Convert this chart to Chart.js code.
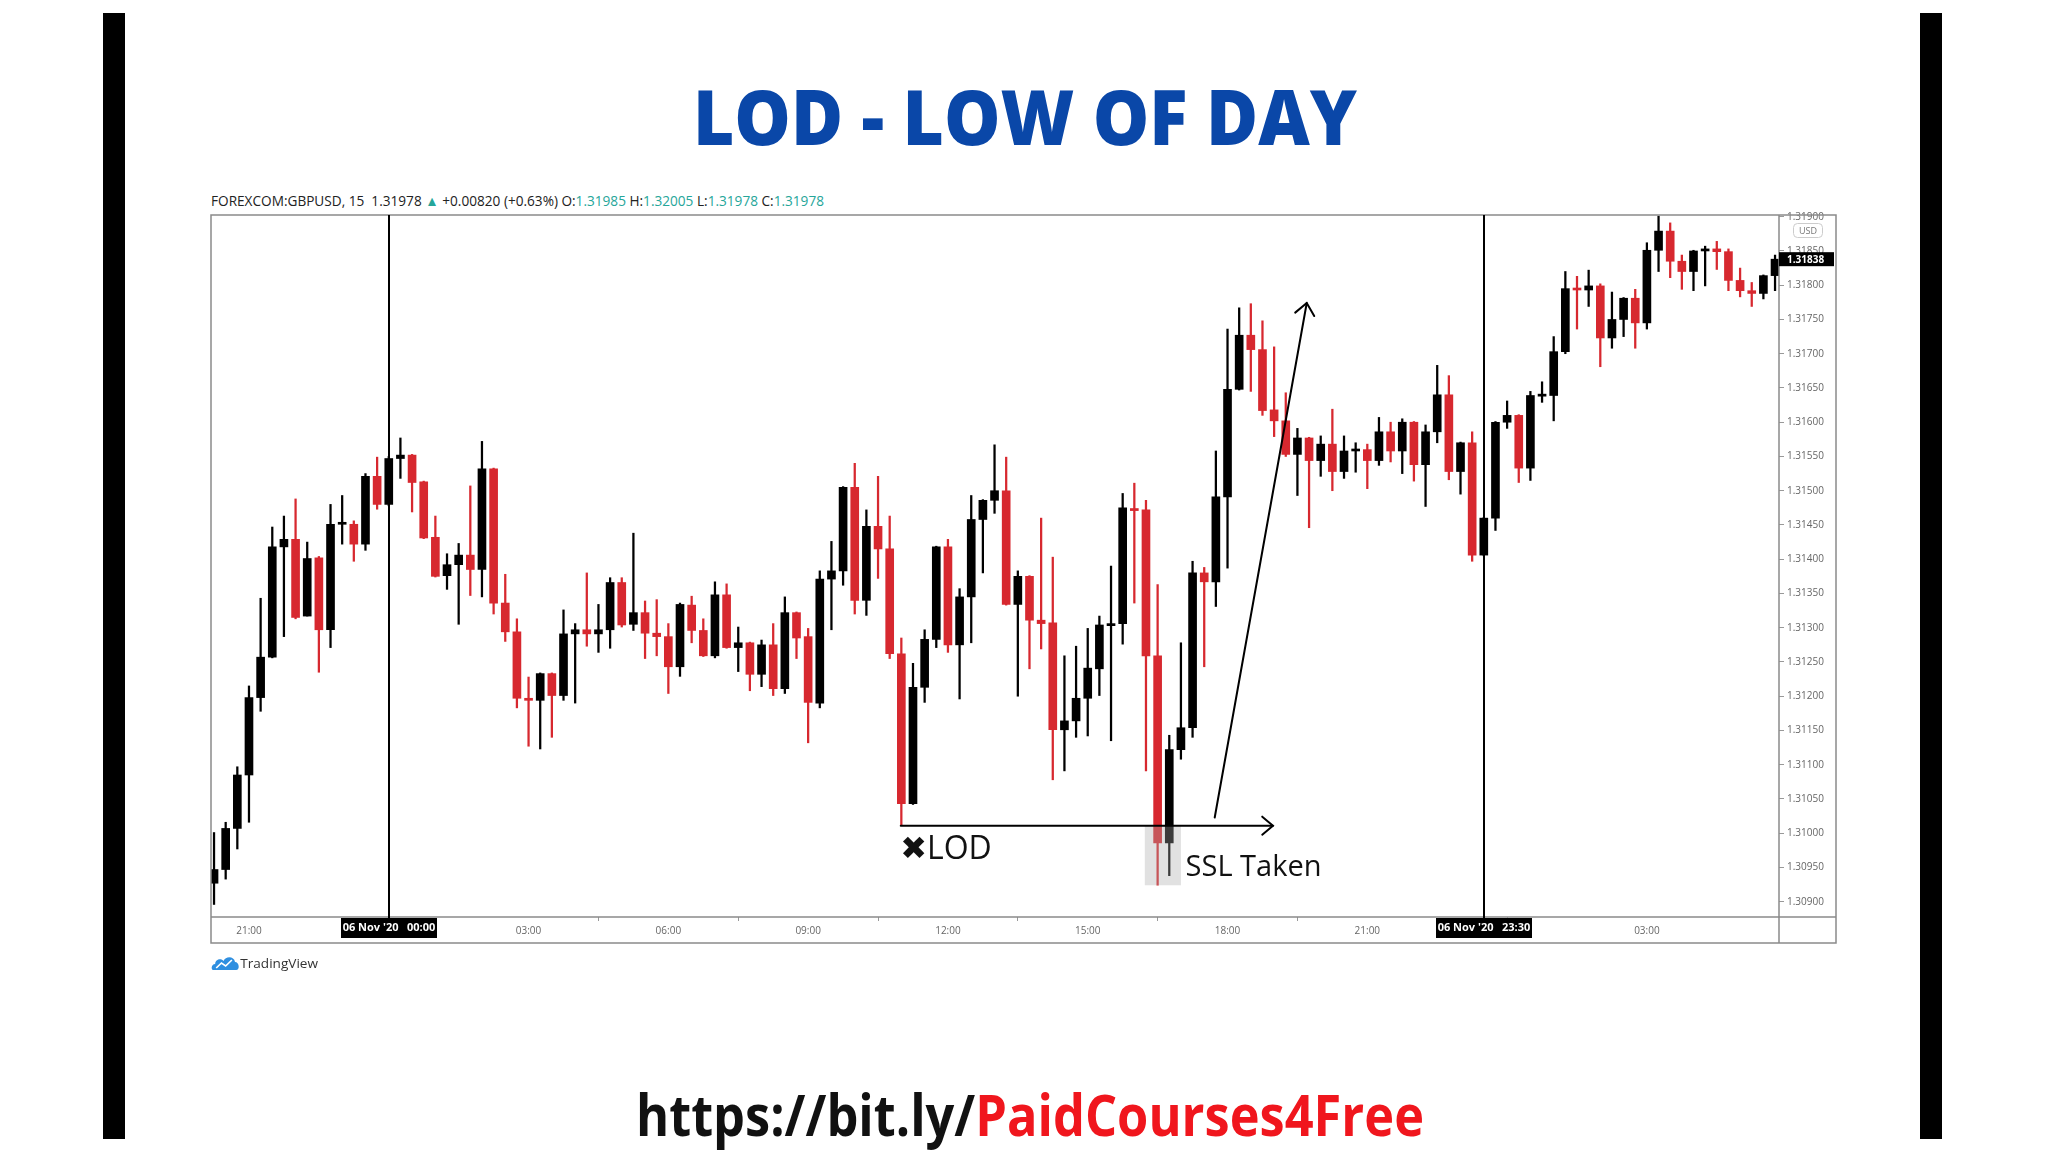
<!DOCTYPE html>
<html>
<head>
<meta charset="utf-8">
<script src="https://cdn.jsdelivr.net/npm/chart.js@4.4.1/dist/chart.umd.min.js"></script>
<style>
	body { margin: 0; width: 2048px; height: 1152px; background: #fff; overflow: hidden; position: relative; font-family: "Open Sans", sans-serif; }
	.barre { position: absolute; top: 13px; width: 22px; height: 1126px; background: #000; }
	.texte { position: absolute; white-space: nowrap; line-height: 1; transform-origin: 0 0; }
	#titre { left: 693px; top: 77px; font-size: 77px; font-weight: 800; color: #0a47a8; }
	#entete { left: 211px; top: 194px; font-size: 14px; color: #222; }
	#entete .vert { color: #26a69a; }
	#lien { left: 636px; top: 1085px; font-size: 58px; font-weight: 700; color: #111; }
	#lien span { color: #f0161d; }
	#tv { left: 211px; top: 955px; font-size: 13px; color: #333; display: flex; align-items: center; }
	#graphique { position: absolute; left: 0; top: 0; }
</style>
</head>
<body>
<div class="barre" style="left:103px"></div>
<div class="barre" style="left:1920px"></div>
<div id="titre" class="texte">LOD - LOW OF DAY</div>
<div id="entete" class="texte">FOREXCOM:GBPUSD, 15&nbsp; 1.31978 <span class="vert">▲</span> +0.00820 (+0.63%) O:<span class="vert">1.31985</span> H:<span class="vert">1.32005</span> L:<span class="vert">1.31978</span> C:<span class="vert">1.31978</span></div>
<canvas id="graphique" width="2048" height="1152"></canvas>
<div id="tv" class="texte"><svg width="28" height="16" viewBox="0 0 28 16"><path d="M2 15 C0 15 0 9 4 9 C4 4 10 3 12 6 C14 1 22 1 23 7 C27 7 28 15 24 15 Z" fill="#2f8fe0"/><path d="M5 13 L10 8 L14 11 L20 5" stroke="#fff" stroke-width="1.6" fill="none"/></svg>TradingView</div>
<div id="lien" class="texte">https://bit.ly/<span>PaidCourses4Free</span></div>
<script>
const opens = [1.30927, 1.30947, 1.31007, 1.31085, 1.31198, 1.31257, 1.31418, 1.31429, 1.31317, 1.31402,
	1.31297, 1.31451, 1.31451, 1.31422, 1.31521, 1.31480, 1.31547, 1.31552, 1.31513, 1.31432,
	1.31376, 1.31392, 1.31406, 1.31385, 1.31532, 1.31336, 1.31294, 1.31197, 1.31194, 1.31233,
	1.31201, 1.31291, 1.31297, 1.31291, 1.31297, 1.31366, 1.31305, 1.31322, 1.31292, 1.31287,
	1.31243, 1.31333, 1.31296, 1.31259, 1.31348, 1.31271, 1.31278, 1.31232, 1.31275, 1.31211,
	1.31322, 1.31287, 1.31190, 1.31371, 1.31383, 1.31505, 1.31340, 1.31448, 1.31415, 1.31262,
	1.31043, 1.31213, 1.31283, 1.31418, 1.31275, 1.31345, 1.31458, 1.31486, 1.31500, 1.31334,
	1.31375, 1.31311, 1.31307, 1.31151, 1.31164, 1.31197, 1.31240, 1.31303, 1.31306, 1.31474,
	1.31472, 1.31259, 1.30986, 1.31122, 1.31154, 1.31380, 1.31367, 1.31491, 1.31648, 1.31727,
	1.31706, 1.31618, 1.31602, 1.31553, 1.31577, 1.31544, 1.31568, 1.31528, 1.31558, 1.31560,
	1.31544, 1.31586, 1.31558, 1.31600, 1.31538, 1.31586, 1.31640, 1.31528, 1.31570, 1.31406,
	1.31460, 1.31600, 1.31610, 1.31533, 1.31638, 1.31639, 1.31703, 1.31795, 1.31793, 1.31799,
	1.31723, 1.31750, 1.31781, 1.31745, 1.31851, 1.31879, 1.31835, 1.31820, 1.31850, 1.31853,
	1.31849, 1.31807, 1.31792, 1.31788, 1.31814];
const highs = [1.31001, 1.31016, 1.31097, 1.31215, 1.31343, 1.31447, 1.31463, 1.31488, 1.31425, 1.31404,
	1.31480, 1.31493, 1.31456, 1.31525, 1.31549, 1.31550, 1.31577, 1.31553, 1.31514, 1.31463,
	1.31408, 1.31423, 1.31507, 1.31572, 1.31533, 1.31378, 1.31313, 1.31228, 1.31234, 1.31234,
	1.31326, 1.31306, 1.31380, 1.31334, 1.31373, 1.31373, 1.31438, 1.31339, 1.31341, 1.31306,
	1.31336, 1.31346, 1.31313, 1.31367, 1.31364, 1.31301, 1.31279, 1.31282, 1.31306, 1.31345,
	1.31323, 1.31299, 1.31383, 1.31426, 1.31506, 1.31540, 1.31472, 1.31521, 1.31463, 1.31285,
	1.31248, 1.31297, 1.31419, 1.31429, 1.31357, 1.31493, 1.31487, 1.31567, 1.31549, 1.31383,
	1.31376, 1.31460, 1.31403, 1.31259, 1.31273, 1.31299, 1.31317, 1.31390, 1.31496, 1.31511,
	1.31486, 1.31363, 1.31143, 1.31278, 1.31397, 1.31388, 1.31558, 1.31736, 1.31767, 1.31773,
	1.31748, 1.31710, 1.31643, 1.31591, 1.31578, 1.31580, 1.31619, 1.31580, 1.31570, 1.31568,
	1.31607, 1.31600, 1.31605, 1.31601, 1.31596, 1.31683, 1.31668, 1.31571, 1.31586, 1.31461,
	1.31601, 1.31631, 1.31611, 1.31645, 1.31659, 1.31725, 1.31820, 1.31813, 1.31822, 1.31802,
	1.31790, 1.31782, 1.31794, 1.31862, 1.31901, 1.31891, 1.31844, 1.31851, 1.31857, 1.31864,
	1.31853, 1.31825, 1.31804, 1.31815, 1.31844];
const lows = [1.30896, 1.30933, 1.30977, 1.31016, 1.31178, 1.31256, 1.31287, 1.31313, 1.31317, 1.31235,
	1.31271, 1.31422, 1.31397, 1.31413, 1.31473, 1.31478, 1.31518, 1.31469, 1.31430, 1.31374,
	1.31356, 1.31305, 1.31347, 1.31345, 1.31320, 1.31280, 1.31183, 1.31127, 1.31123, 1.31140,
	1.31194, 1.31190, 1.31273, 1.31264, 1.31270, 1.31301, 1.31296, 1.31255, 1.31259, 1.31204,
	1.31229, 1.31278, 1.31258, 1.31256, 1.31270, 1.31236, 1.31208, 1.31214, 1.31201, 1.31204,
	1.31255, 1.31132, 1.31183, 1.31297, 1.31362, 1.31320, 1.31318, 1.31372, 1.31255, 1.31011,
	1.31042, 1.31191, 1.31271, 1.31264, 1.31196, 1.31278, 1.31380, 1.31467, 1.31333, 1.31200,
	1.31240, 1.31269, 1.31078, 1.31091, 1.31140, 1.31142, 1.31201, 1.31135, 1.31276, 1.31336,
	1.31091, 1.30924, 1.30938, 1.31108, 1.31140, 1.31243, 1.31331, 1.31387, 1.31647, 1.31645,
	1.31610, 1.31579, 1.31550, 1.31493, 1.31446, 1.31521, 1.31500, 1.31518, 1.31527, 1.31503,
	1.31537, 1.31542, 1.31525, 1.31514, 1.31477, 1.31570, 1.31516, 1.31495, 1.31397, 1.31405,
	1.31442, 1.31591, 1.31512, 1.31515, 1.31629, 1.31602, 1.31700, 1.31736, 1.31769, 1.31681,
	1.31708, 1.31725, 1.31708, 1.31736, 1.31820, 1.31811, 1.31794, 1.31792, 1.31799, 1.31823,
	1.31792, 1.31783, 1.31769, 1.31780, 1.31792];
const closes = [1.30947, 1.31007, 1.31085, 1.31198, 1.31257, 1.31418, 1.31429, 1.31315, 1.31401, 1.31297,
	1.31451, 1.31452, 1.31422, 1.31521, 1.31480, 1.31547, 1.31552, 1.31512, 1.31431, 1.31375,
	1.31392, 1.31406, 1.31385, 1.31532, 1.31336, 1.31294, 1.31197, 1.31194, 1.31233, 1.31201,
	1.31291, 1.31297, 1.31291, 1.31297, 1.31366, 1.31304, 1.31322, 1.31292, 1.31287, 1.31243,
	1.31334, 1.31296, 1.31259, 1.31348, 1.31271, 1.31278, 1.31232, 1.31275, 1.31211, 1.31322,
	1.31285, 1.31191, 1.31371, 1.31383, 1.31505, 1.31340, 1.31448, 1.31415, 1.31262, 1.31043,
	1.31213, 1.31283, 1.31418, 1.31275, 1.31345, 1.31458, 1.31486, 1.31500, 1.31334, 1.31375,
	1.31311, 1.31306, 1.31151, 1.31164, 1.31197, 1.31241, 1.31304, 1.31306, 1.31475, 1.31471,
	1.31259, 1.30986, 1.31122, 1.31154, 1.31380, 1.31367, 1.31491, 1.31648, 1.31727, 1.31706,
	1.31617, 1.31602, 1.31553, 1.31577, 1.31544, 1.31568, 1.31528, 1.31558, 1.31560, 1.31544,
	1.31586, 1.31558, 1.31600, 1.31538, 1.31586, 1.31640, 1.31528, 1.31570, 1.31406, 1.31460,
	1.31600, 1.31610, 1.31533, 1.31639, 1.31641, 1.31703, 1.31795, 1.31793, 1.31799, 1.31723,
	1.31750, 1.31781, 1.31745, 1.31851, 1.31879, 1.31835, 1.31820, 1.31850, 1.31853, 1.31849,
	1.31807, 1.31792, 1.31788, 1.31814, 1.31838];

const xTickIdx = [3, 27, 39, 51, 63, 75, 87, 99, 123];
const xTickLabels = ["21:00", "03:00", "06:00", "09:00", "12:00", "15:00", "18:00", "21:00", "03:00"];
const yTicks = [1.309, 1.3095, 1.31, 1.3105, 1.311, 1.3115, 1.312, 1.3125, 1.313, 1.3135, 1.314,
	1.3145, 1.315, 1.3155, 1.316, 1.3165, 1.317, 1.3175, 1.318, 1.3185, 1.319];
const markerIdx = [15, 109];
const markerLabels = ["06 Nov '20   00:00", "06 Nov '20   23:30"];

const ROUGE = "#d7282f";
const NOIR = "#000000";
const couleurs = closes.map((c, i) => c >= opens[i] ? NOIR : ROUGE);

function pointe(ctx, x1, y1, x2, y2, len) {
	const ang = Math.atan2(y2 - y1, x2 - x1);
	ctx.beginPath();
	ctx.moveTo(x2 - len * Math.cos(ang - 0.7), y2 - len * Math.sin(ang - 0.7));
	ctx.lineTo(x2, y2);
	ctx.lineTo(x2 - len * Math.cos(ang + 0.7), y2 - len * Math.sin(ang + 0.7));
	ctx.stroke();
}

const annotations = {
	id: "annotations",
	afterDatasetsDraw(chart) {
		const ctx = chart.ctx;
		const x = chart.scales.x, y = chart.scales.y;
		ctx.save();
		ctx.lineCap = "round";

		// zone grisee sous le LOD
		ctx.fillStyle = "rgba(170, 170, 170, 0.35)";
		const gx = x.getPixelForValue(79.9), gy = y.getPixelForValue(lows[59]);
		ctx.fillRect(gx, gy, x.getPixelForValue(83.0) - gx, y.getPixelForValue(1.30924) - gy);

		// ligne LOD
		ctx.strokeStyle = "#000";
		ctx.lineWidth = 2;
		const ly = y.getPixelForValue(lows[59]);
		const lx1 = x.getPixelForValue(58.95), lx2 = x.getPixelForValue(90.9);
		ctx.beginPath();
		ctx.moveTo(lx1, ly);
		ctx.lineTo(lx2, ly);
		ctx.stroke();
		pointe(ctx, lx1, ly, lx2, ly, 14);

		// fleche montante
		const ax1 = x.getPixelForValue(85.9), ay1 = y.getPixelForValue(1.31023);
		const ax2 = x.getPixelForValue(93.8), ay2 = y.getPixelForValue(1.31774);
		ctx.beginPath();
		ctx.moveTo(ax1, ay1);
		ctx.lineTo(ax2, ay2);
		ctx.stroke();
		pointe(ctx, ax1, ay1, ax2, ay2, 15);

		ctx.fillStyle = "#111";
		ctx.textBaseline = "alphabetic";
		ctx.font = '32px "Open Sans", "DejaVu Sans"';
		ctx.fillText("✖LOD", x.getPixelForValue(58.9), y.getPixelForValue(1.30962));
		ctx.font = '29px "Open Sans", "DejaVu Sans"';
		ctx.fillText("SSL Taken", x.getPixelForValue(83.4), y.getPixelForValue(1.30937));
		ctx.restore();
	},
	afterDraw(chart) {
		const ctx = chart.ctx, a = chart.chartArea;
		const x = chart.scales.x, y = chart.scales.y;
		ctx.save();

		// cadre
		ctx.strokeStyle = "#8a8a8a";
		ctx.lineWidth = 1.5;
		ctx.strokeRect(a.left, a.top, 1836 - a.left, 943 - a.top);
		ctx.beginPath();
		ctx.moveTo(a.right, a.top);
		ctx.lineTo(a.right, 943);
		ctx.moveTo(a.left, a.bottom);
		ctx.lineTo(1836, a.bottom);
		ctx.stroke();

		// lignes verticales et etiquettes de date
		for (let i = 0; i < markerIdx.length; i++) {
			const mx = Math.round(x.getPixelForValue(markerIdx[i]));
			ctx.strokeStyle = "#000";
			ctx.lineWidth = 2;
			ctx.beginPath();
			ctx.moveTo(mx, a.top);
			ctx.lineTo(mx, a.bottom + 2);
			ctx.stroke();
			ctx.fillStyle = "#000";
			ctx.fillRect(mx - 48, a.bottom + 1, 96, 20);
			ctx.fillStyle = "#fff";
			ctx.font = 'bold 11px "Open Sans"';
			ctx.textAlign = "center";
			ctx.textBaseline = "middle";
			ctx.fillText(markerLabels[i], mx, a.bottom + 11);
		}

		// badge USD
		ctx.strokeStyle = "#ccc";
		ctx.lineWidth = 1;
		ctx.beginPath();
		ctx.roundRect(1793.5, 223.5, 29, 14, 4);
		ctx.fillStyle = "#fff";
		ctx.fill();
		ctx.stroke();
		ctx.fillStyle = "#777";
		ctx.font = '9px "Open Sans"';
		ctx.textAlign = "center";
		ctx.fillText("USD", 1808, 231);

		// dernier prix
		const py = y.getPixelForValue(closes[closes.length - 1]);
		ctx.fillStyle = "#000";
		ctx.fillRect(a.right, py - 7, 55, 14);
		ctx.fillStyle = "#fff";
		ctx.font = 'bold 10px "Open Sans"';
		ctx.textAlign = "left";
		ctx.fillText(closes[closes.length - 1].toFixed(5), a.right + 8, py + 0.5);
		ctx.restore();
	}
};

const graph = new Chart(document.querySelector("#graphique"), {
	type: "bar",
	data: {
		datasets: [{
			data: opens.map((o, i) => ({x: i, y: [o, closes[i]]})),
			backgroundColor: couleurs,
			barThickness: 8,
			minBarLength: 2,
			grouped: false,
		}, {
			data: opens.map((o, i) => ({x: i, y: [lows[i], highs[i]]})),
			backgroundColor: couleurs,
			barThickness: 1.6,
			grouped: false,
		}],
	},
	options: {
		responsive: false,
		animation: false,
		devicePixelRatio: 1,
		layout: {padding: {left: 211, top: 215, right: 212, bottom: 209}},
		plugins: {legend: {display: false}, tooltip: {enabled: false}},
		scales: {
			x: {
				type: "linear",
				min: -0.26,
				max: 134.34,
				offset: false,
				border: {display: false},
				grid: {drawOnChartArea: false, tickLength: 4, color: "#999"},
				afterBuildTicks: scale => { scale.ticks = xTickIdx.map(v => ({value: v})); },
				afterFit: scale => { scale.height = 26; },
				ticks: {
					autoSkip: false,
					maxRotation: 0,
					padding: 4,
					color: "#666",
					font: {family: "Open Sans", size: 10},
					callback: v => xTickLabels[xTickIdx.indexOf(v)],
				},
			},
			y: {
				position: "right",
				min: 1.308777,
				max: 1.319025,
				border: {display: false},
				grid: {drawOnChartArea: false, tickLength: 5, color: "#999"},
				afterBuildTicks: scale => { scale.ticks = yTicks.map(v => ({value: v})); },
				afterFit: scale => { scale.width = 57; },
				ticks: {
					padding: 3,
					color: "#666",
					font: {family: "Open Sans", size: 10},
					callback: v => v.toFixed(5),
				},
			},
		},
	},
	plugins: [annotations],
});

function ajuster(id, largeur) {
	const el = document.getElementById(id);
	el.style.transform = "none";
	const w = el.getBoundingClientRect().width;
	el.style.transform = `scaleX(${largeur / w})`;
}
function ajusterTout() {
	ajuster("titre", 664);
	ajuster("entete", 613);
	ajuster("lien", 788);
	ajuster("tv", 107);
}
ajusterTout();
document.fonts.ready.then(ajusterTout);
</script>
</body>
</html>
